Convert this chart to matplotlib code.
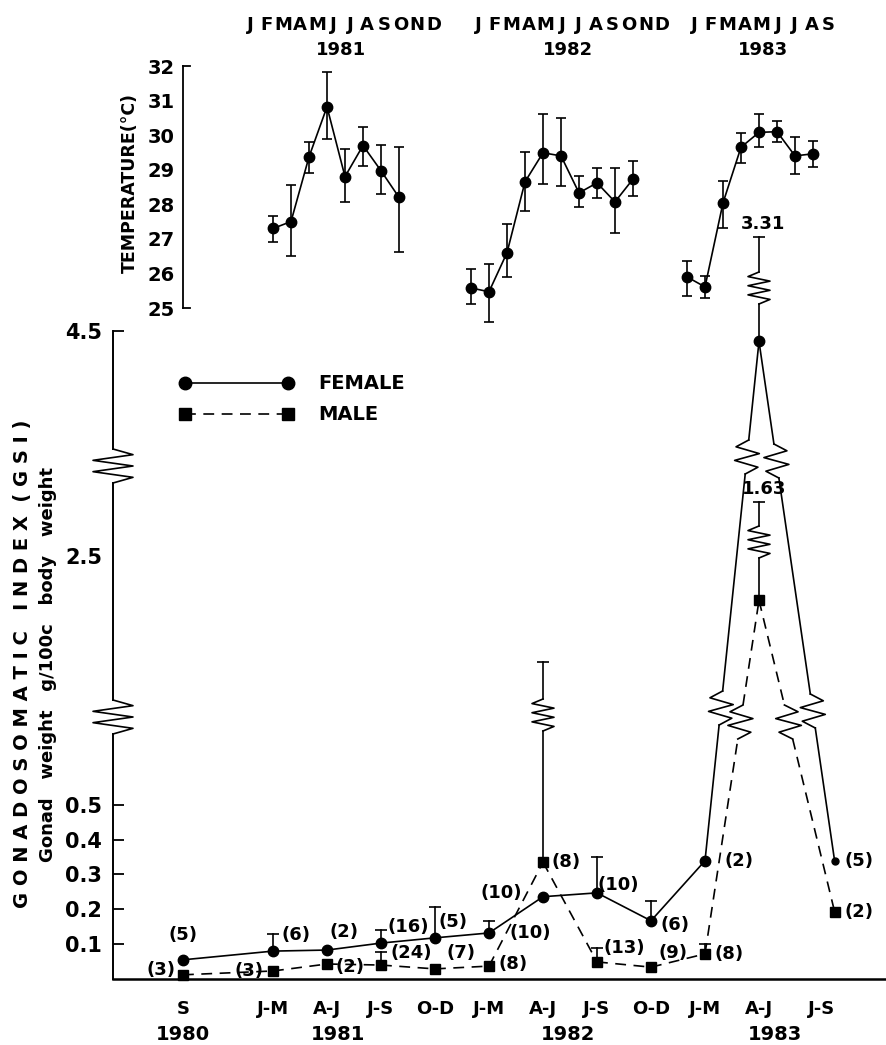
import numpy as np
import matplotlib
matplotlib.use('Agg')
import matplotlib.pyplot as plt
from matplotlib.transforms import blended_transform_factory

plt.rcParams['font.weight'] = 'bold'

# Ось x в месяцах от января 1980 (0 = янв 1980)

# 1. Температура (средняя и концы планок погрешности)
t81_m = [13, 14, 15, 16, 17, 18, 19, 20]
t81 = [27.3, 27.5, 29.37, 30.82, 28.8, 29.7, 28.97, 28.2]
t81_hi = [27.65, 28.55, 29.8, 31.83, 29.6, 30.24, 29.72, 29.66]
t81_lo = [26.9, 26.5, 28.9, 29.9, 28.07, 29.1, 28.3, 26.62]

t82_m = [24, 25, 26, 27, 28, 29, 30, 31, 32, 33]
t82 = [25.58, 25.47, 26.6, 28.65, 29.49, 29.4, 28.33, 28.62, 28.07, 28.73]
t82_hi = [26.13, 26.28, 27.43, 29.51, 30.61, 30.49, 28.82, 29.05, 29.05, 29.25]
t82_lo = [25.12, 24.6, 25.9, 27.81, 28.59, 28.53, 27.93, 28.19, 27.17, 28.24]

t83_m = [36, 37, 38, 39, 40, 41, 42, 43]
t83 = [25.9, 25.61, 28.04, 29.65, 30.08, 30.1, 29.4, 29.46]
t83_hi = [26.36, 25.93, 28.68, 30.06, 30.61, 30.4, 29.95, 29.83]
t83_lo = [25.35, 25.29, 27.32, 29.2, 29.66, 29.8, 28.88, 29.08]

# 2. ГСИ по кварталам
gsi_m = [8, 13, 16, 19, 22, 25, 28, 31, 34, 37, 40, 44.2]
female = [0.055, 0.08, 0.083, 0.103, 0.118, 0.132, 0.236, 0.247, 0.167, 0.339, 4.42, 0.339]
female_top = [None, 0.13, None, 0.14, 0.207, 0.167, None, 0.35, 0.224, None, 5.22, None]
male = [0.012, 0.023, 0.043, 0.04, 0.029, 0.037, 0.335, 0.049, 0.034, 0.072, 2.04, 0.193]
male_top = [None, None, None, 0.078, None, None, 1.40, 0.09, None, 0.10, 3.06, None]
female_n = ['5', '6', '2', '16', '5', '10', '10', '10', '6', '2', '', '5']
male_n = ['3', '3', '2', '24', '7', '8', '8', '13', '9', '8', '', '2']
sd_notes = {'female': '3.31', 'male': '1.63'}

quarter_labels = ['S', 'J-M', 'A-J', 'J-S', 'O-D', 'J-M', 'A-J', 'J-S', 'O-D', 'J-M', 'A-J', 'J-S']
quarter_tick_m = [8, 13, 16, 19, 22, 25, 28, 31, 34, 37, 40, 43.5]
years = ['1980', '1981', '1982', '1983']
years_m = [8, 16.6, 29.4, 40.9]

head_letters = ['JFMAMJJASOND', 'JFMAMJJASOND', 'JFMAMJJAS']
head_years = ['1981', '1982', '1983']

# смещения подписей (n) в пикселях
female_off = [(0, 25), (23, 16), (17, 18), (27, 16), (18, 16), (41, 0), (-42, 4),
              (21, 8), (24, -4), (34, 0), (0, 0), (24, 0)]
male_off = [(-22, 5), (-24, 0), (23, -3), (30, 12), (26, 16), (24, 2), (23, 0),
            (27, 14), (22, 14), (24, 0), (0, 0), (24, 0)]

PX = 18.0  # пикселей на месяц

# разрывная шкала ГСИ: значение -> пиксели над осью x
VS = [-1.0, 0.0, 0.78, 0.96, 3.46, 3.50, 4.50, 10.0]
PS = [-348.0, 0.0, 272, 275, 515, 518, 648, 1363]


def fwd(v):
    return np.interp(v, VS, PS)


def inv(p):
    return np.interp(p, PS, VS)


fig = plt.figure(figsize=(8.87, 10.45), dpi=100)
W, H = 887.0, 1045.0

ax_t = fig.add_axes([183 / W, 1 - 308 / H, (887 - 183) / W, (308 - 66) / H])
ax_g = fig.add_axes([113 / W, 1 - 979 / H, 774 / W, 749 / H])
for a in (ax_t, ax_g):
    a.patch.set_alpha(0)

# --- температура ---
for mm, t, hi, lo in [(t81_m, t81, t81_hi, t81_lo), (t82_m, t82, t82_hi, t82_lo),
                      (t83_m, t83, t83_hi, t83_lo)]:
    t = np.array(t)
    ax_t.errorbar(mm, t, yerr=[t - np.array(lo), np.array(hi) - t], fmt='-o', color='k',
                  ms=7.5, lw=1.2, elinewidth=1.2, capsize=3.8, capthick=1.2, clip_on=False)

ax_t.set_ylim(25, 32)
ax_t.set_xlim(8, 8 + 704 / PX)
for s in ['top', 'right', 'bottom']:
    ax_t.spines[s].set_visible(False)
ax_t.spines['left'].set_linewidth(1.3)
ax_t.set_xticks([])
ax_t.set_yticks(range(25, 33))
ax_t.tick_params(axis='y', length=0, pad=6, labelsize=14)
ax_t.plot([8, 8 + 7 / PX], [32, 32], color='k', lw=1.3, clip_on=False)
ax_t.plot([8, 8 + 7 / PX], [25, 25], color='k', lw=1.3, clip_on=False)
fig.text(130 / W, 1 - 183 / H, 'TEMPERATURE(°C)', rotation=90, ha='center', va='center',
         fontsize=12.5)

# заголовок месяцев
tr = blended_transform_factory(ax_t.transData, fig.transFigure)
head_start = [11.72, 24.4, 36.4]
head_mid = [16.8, 29.4, 40.2]
for letters, st, yr, mid in zip(head_letters, head_start, head_years, head_mid):
    for i, ch in enumerate(letters):
        ax_t.text(st + i * 0.93, 1 - 25 / H, ch, transform=tr, ha='center', va='center',
                  fontsize=13)
    ax_t.text(mid, 1 - 50 / H, yr, transform=tr, ha='center', va='center', fontsize=13)

# --- ГСИ ---
ax_g.set_xlim(8 - 70 / PX, 8 + 704 / PX)
ax_g.set_yscale('function', functions=(fwd, inv))
ax_g.set_ylim(0, inv(749))


def zig(ax, xs, ps, amp, n):
    # зигзаг между двумя точками (x, пиксели)
    pp = np.linspace(ps[0], ps[1], n + 2)
    xx = np.linspace(xs[0], xs[1], n + 2)
    sign = np.array([1 if i % 2 == 0 else -1 for i in range(n)])
    xx[1:-1] = xx[1:-1] + sign * amp / PX
    ax.plot(xx, inv(pp), color='k', lw=1.2, clip_on=False)


def broken(ax, xa, va, xb, vb, breaks=(), half=17, amp=12, n=4, **kw):
    pa, pb = fwd(va), fwd(vb)

    def xat(p):
        return xa + (p - pa) * (xb - xa) / (pb - pa)

    sgn = 1 if pb > pa else -1
    p0 = pa
    for c in sorted(breaks, key=lambda c: abs(c - pa)):
        g0, g1 = c - sgn * half, c + sgn * half
        ax.plot([xat(p0), xat(g0)], inv([p0, g0]), clip_on=False, **kw)
        zig(ax, (xat(g0), xat(g1)), (g0, g1), amp, n)
        p0 = g1
    ax.plot([xat(p0), xb], inv([p0, pb]), clip_on=False, **kw)


solid = dict(color='k', lw=1.2)
dashed = dict(color='k', lw=1.2, linestyle=(0, (6.5, 4.5)))

female_breaks = {9: [271, 522], 10: [518, 268]}
male_breaks = {9: [257], 10: [257]}
for i in range(len(gsi_m) - 1):
    broken(ax_g, gsi_m[i], female[i], gsi_m[i + 1], female[i + 1],
           female_breaks.get(i, ()), **solid)
    broken(ax_g, gsi_m[i], male[i], gsi_m[i + 1], male[i + 1],
           male_breaks.get(i, ()), **dashed)

# планки погрешности (только вверх)
f_err_breaks = {10: [691]}
m_err_breaks = {6: [264], 10: [437]}
for vals, tops, brk in [(female, female_top, f_err_breaks), (male, male_top, m_err_breaks)]:
    for i, (v, top) in enumerate(zip(vals, tops)):
        if top is None:
            continue
        broken(ax_g, gsi_m[i], v, gsi_m[i], top, brk.get(i, ()), half=16, amp=11, n=6,
               **solid)
        ax_g.plot([gsi_m[i]], [top], marker='_', ms=9, mew=1.2, color='k', clip_on=False)

ax_g.plot(gsi_m[:-1], female[:-1], 'o', color='k', ms=7.5, clip_on=False, zorder=5)
ax_g.plot(gsi_m[-1:], female[-1:], 'o', color='k', ms=5, clip_on=False, zorder=5)
ax_g.plot(gsi_m, male, 's', color='k', ms=7, clip_on=False, zorder=5)

for i in range(len(gsi_m)):
    for vals, lab, off in [(female, female_n, female_off), (male, male_n, male_off)]:
        if lab[i]:
            ax_g.annotate('(' + lab[i] + ')', (gsi_m[i], vals[i]),
                          xytext=(off[i][0] * 0.72, off[i][1] * 0.72),
                          textcoords='offset points', ha='center', va='center',
                          fontsize=13, annotation_clip=False)

ax_g.annotate(sd_notes['female'], (gsi_m[10], female_top[10]), xytext=(3, 10),
              textcoords='offset points', ha='center', va='center', fontsize=13,
              annotation_clip=False)
ax_g.annotate(sd_notes['male'], (gsi_m[10], male_top[10]), xytext=(4, 10),
              textcoords='offset points', ha='center', va='center', fontsize=13,
              annotation_clip=False)

# левая ось с разрывами
x0 = ax_g.get_xlim()[0]
broken(ax_g, x0, 0, x0, 4.5, [262, 513], half=17, amp=20, n=5, color='k', lw=1.4)

for s in ['top', 'right', 'left']:
    ax_g.spines[s].set_visible(False)
ax_g.spines['bottom'].set_linewidth(1.8)
ax_g.set_yticks([0.1, 0.2, 0.3, 0.4, 0.5, 2.5, 4.5],
                ['0.1', '0.2', '0.3', '0.4', '0.5', '2.5', '4.5'])
ax_g.minorticks_off()
ax_g.tick_params(axis='y', direction='in', length=8, width=1.3, pad=8, labelsize=15)
ax_g.yaxis.get_major_ticks()[5].tick1line.set_visible(False)
ax_g.set_xticks(quarter_tick_m, quarter_labels)
ax_g.tick_params(axis='x', length=0, pad=15, labelsize=13)

trg = blended_transform_factory(ax_g.transData, fig.transFigure)
for yr, mx in zip(years, years_m):
    ax_g.text(mx, 1 - 1035 / H, yr, transform=trg, ha='center', va='center', fontsize=14)

# легенда: маркер — линия — маркер
lx = [8 + (185 - 183) / PX, 8 + (288 - 183) / PX]
ax_g.plot(lx, [1 - 383 / H] * 2, '-o', color='k', ms=9, lw=1.2, transform=trg, clip_on=False)
ax_g.plot(lx, [1 - 414 / H] * 2, 's', color='k', ms=8.5, transform=trg, clip_on=False)
ax_g.plot(lx, [1 - 414 / H] * 2, color='k', lw=1.2, linestyle=(0, (6.5, 4.5)), transform=trg,
          clip_on=False)
ax_g.text(8 + (318 - 183) / PX, 1 - 383 / H, 'FEMALE', transform=trg, va='center',
          fontsize=14)
ax_g.text(8 + (318 - 183) / PX, 1 - 414 / H, 'MALE', transform=trg, va='center', fontsize=14)

fig.text(23 / W, 1 - 664 / H, 'G O N A D O S O M A T I C   I N D E X  ( G S I )',
         rotation=90, ha='center', va='center', fontsize=14)
fig.text(48 / W, 1 - 665 / H, 'Gonad   weight   g/100c   body   weight', rotation=90,
         ha='center', va='center', fontsize=13)

fig.savefig('out.png', dpi=100)
